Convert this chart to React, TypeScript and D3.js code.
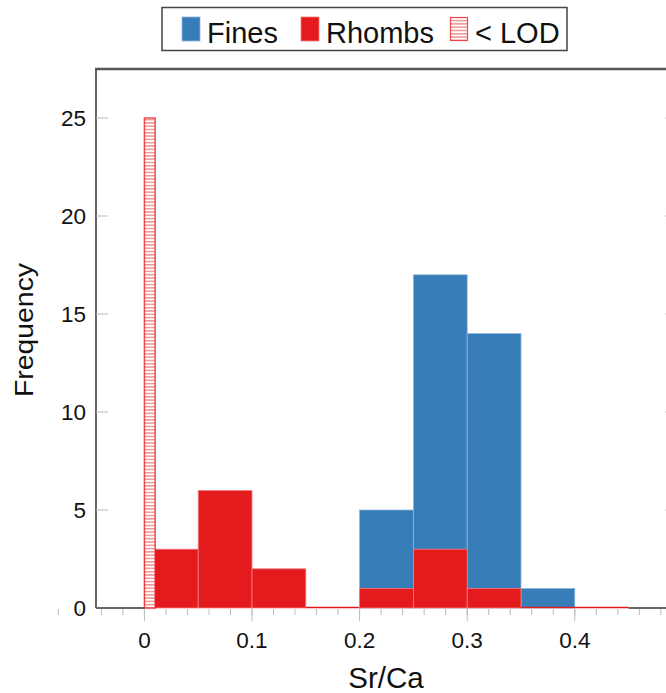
import React from "react";
import * as d3 from "d3";

// histogram bins (Sr/Ca)
const binEdges = [0, 0.05, 0.1, 0.15, 0.2, 0.25, 0.3, 0.35, 0.4, 0.45];
const rhombCounts = [3, 6, 2, 0, 1, 3, 1, 0, 0];
const fineCounts = [0, 0, 0, 0, 5, 17, 14, 1, 0];
const lodBin = [0, 0.01];
const lodCount = 25;

const yTicks = [0, 5, 10, 15, 20, 25];
const xMajorTicks = [0, 0.1, 0.2, 0.3, 0.4];
const xMinorTicks = d3.range(-4, 25).map((i) => i * 0.02);
const legendItems = ["Fines", "Rhombs", "< LOD"];

const BLUE = "#377eb8";
const RED = "#e41a1c";
const FONT = "'Liberation Sans', Arial, Helvetica, sans-serif";

const W = 666;
const H = 693;
const margin = { top: 69, right: -11, bottom: 85, left: 96 };

export default function App() {
  const x = d3
    .scaleLinear()
    .domain([-0.045, 0.495])
    .range([margin.left, W - margin.right]);
  const y = d3
    .scaleLinear()
    .domain([0, 27.5])
    .range([H - margin.bottom, margin.top]);

  const x0 = margin.left;
  const x1 = W - margin.right;
  const y0 = H - margin.bottom;
  const y1 = margin.top;

  const bins = (counts: number[]) =>
    counts.map((c, i) => ({ a: binEdges[i], b: binEdges[i + 1], c }));

  return (
    <svg
      width={W}
      height={H}
      style={{ position: "absolute", left: 0, top: 0, background: "#fff" }}
      fontFamily={FONT}
    >
      <defs>
        <pattern id="hatch" patternUnits="userSpaceOnUse" width={10} height={3.3}>
          <rect width={10} height={3.3} fill="#fff" />
          <line x1={0} x2={10} y1={0.8} y2={0.8} stroke={RED} strokeOpacity={0.7} strokeWidth={1} />
        </pattern>
      </defs>

      {/* fines */}
      {bins(fineCounts)
        .filter((d) => d.c > 0)
        .map((d, i) => (
          <rect
            key={"f" + i}
            x={x(d.a)}
            y={y(d.c)}
            width={x(d.b) - x(d.a)}
            height={y(0) - y(d.c)}
            fill={BLUE}
            stroke="#8fb6db"
            strokeWidth={0.8}
          />
        ))}

      {/* rhombs */}
      {bins(rhombCounts).map((d, i) =>
        d.c > 0 ? (
          <rect
            key={"r" + i}
            x={x(d.a)}
            y={y(d.c)}
            width={x(d.b) - x(d.a)}
            height={y(0) - y(d.c)}
            fill={RED}
            stroke="#f07f80"
            strokeWidth={0.8}
          />
        ) : (
          <line key={"r" + i} x1={x(d.a)} x2={x(d.b)} y1={y(0) - 0.5} y2={y(0) - 0.5} stroke={RED} strokeWidth={1.5} />
        )
      )}

      {/* below limit of detection */}
      <rect
        x={x(lodBin[0])}
        y={y(lodCount)}
        width={x(lodBin[1]) - x(lodBin[0])}
        height={y(0) - y(lodCount)}
        fill="url(#hatch)"
        stroke={RED}
        strokeOpacity={0.75}
        strokeWidth={1.5}
      />

      {/* frame */}
      <line x1={x0} x2={x0} y1={y1} y2={y0} stroke="#666" strokeWidth={2} />
      <line x1={x0} x2={x(0)} y1={y0} y2={y0} stroke="#666" strokeWidth={2} />
      <line x1={x(0.45)} x2={x1} y1={y0} y2={y0} stroke="#666" strokeWidth={2} />
      <line x1={x0 - 1} x2={x1} y1={y1} y2={y1} stroke="#555" strokeWidth={2.5} />
      <line x1={x1} x2={x1} y1={y1} y2={y0} stroke="#666" strokeWidth={2} />

      {/* y ticks */}
      {yTicks.map((t) => (
        <g key={"y" + t}>
          {t > 0 && <line x1={x0} x2={x0 + 12} y1={y(t)} y2={y(t)} stroke="#bbb" />}
          {t > 0 && <line x1={x1 - 12} x2={x1} y1={y(t)} y2={y(t)} stroke="#bbb" />}
          <text x={86} y={y(t)} dy="0.36em" textAnchor="end" fontSize={22.5} fill="#111">
            {t}
          </text>
        </g>
      ))}

      {/* x ticks */}
      {xMinorTicks.map((t, i) => (
        <line key={"xm" + i} x1={x(t)} x2={x(t)} y1={y0 + 1} y2={y0 + 7} stroke="#bbb" />
      ))}
      {xMajorTicks.map((t) => (
        <g key={"x" + t}>
          <line x1={x(t)} x2={x(t)} y1={y0 + 1} y2={y0 + 13} stroke="#bbb" />
          <text x={x(t)} y={648} textAnchor="middle" fontSize={22.5} fill="#111">
            {t === 0 ? "0" : d3.format(".1f")(t)}
          </text>
        </g>
      ))}

      {/* axis titles */}
      <text x={386} y={688} textAnchor="middle" fontSize={29.5} fill="#111">
        Sr/Ca
      </text>
      <text
        transform={`translate(33,330) rotate(-90)`}
        textAnchor="middle"
        fontSize={25.5}
        textLength={134}
        lengthAdjust="spacingAndGlyphs"
        fill="#111"
      >
        Frequency
      </text>

      {/* legend */}
      <rect x={162} y={7.5} width={405} height={43} fill="#fff" stroke="#444" strokeWidth={1.5} />
      {legendItems.map((name, i) => {
        const sx = [182, 301, 450][i];
        return (
          <g key={name}>
            {i < 2 ? (
              <rect x={sx} y={17} width={18} height={24} fill={i === 0 ? BLUE : RED} stroke={i === 0 ? "#8fb6db" : "#f07f80"} strokeWidth={0.8} />
            ) : (
              <rect x={sx + 0.5} y={17.5} width={17} height={23} fill="url(#hatch)" stroke={RED} strokeOpacity={0.75} strokeWidth={1.2} />
            )}
            <text x={sx + 25} y={42.7} fontSize={29} fill="#111">
              {name}
            </text>
          </g>
        );
      })}
    </svg>
  );
}
